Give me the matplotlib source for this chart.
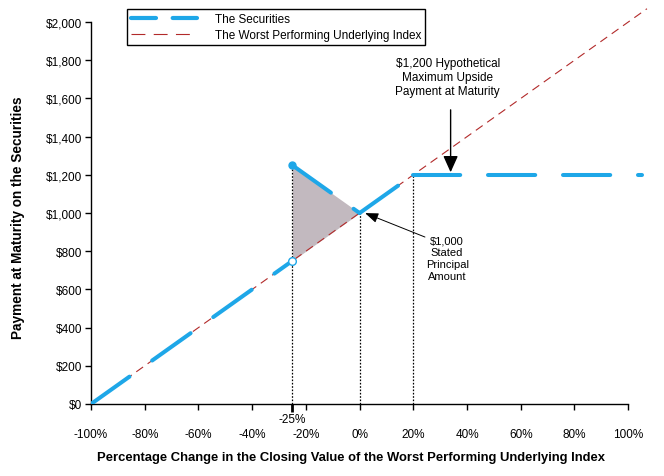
import matplotlib
matplotlib.use("Agg")
import matplotlib.pyplot as plt
from matplotlib.lines import Line2D

plt.rcParams['font.family'] = ['Liberation Sans', 'DejaVu Sans']
plt.rcParams['lines.scale_dashes'] = False

# ---- data ----
index_x = [-100, 107]
index_y = [0, 2070]
sec_loss_x = [-100, -25]
sec_loss_y = [0, 750]
sec_abs_x = [-25, 0]
sec_abs_y = [1250, 1000]
sec_up_x = [0, 20]
sec_up_y = [1000, 1200]
sec_cap_x = [20, 105]
sec_cap_y = [1200, 1200]
shade_x = [-25, 0]
shade_low = [750, 1000]
shade_high = [1250, 1000]
key_x = [-25, 0, 20]
key_y = [1250, 1000, 1200]
x_ticks = [-100, -80, -60, -40, -20, 0, 20, 40, 60, 80, 100]
x_labels = ['-100%', '-80%', '-60%', '-40%', '-20%', '0%', '20%', '40%', '60%', '80%', '100%']
y_ticks = [0, 200, 400, 600, 800, 1000, 1200, 1400, 1600, 1800, 2000]
y_labels = ['$0', '$200', '$400', '$600', '$800', '$1,000', '$1,200', '$1,400', '$1,600', '$1,800', '$2,000']

BLUE = '#1ea7e8'
RED = '#b22a2a'

fig = plt.figure(figsize=(6.64, 4.77), dpi=100)
ax = fig.add_axes([91/664, 1-405/477, (655-91)/664, 401/477])
ax.set_xlim(-100, 110)
ax.set_ylim(0, 2100)

# shaded area
ax.fill_between(shade_x, shade_low, shade_high, color='#c2b9bf', lw=0, zorder=1)

# dotted verticals
for xv, yv in zip(key_x, key_y):
    ax.plot([xv, xv], [0, yv], color='black', ls=(0, (1.2, 1.2)), lw=0.9, zorder=2)

# index line
ax.plot(index_x, index_y, color=RED, lw=0.8, dashes=(6, 4), zorder=3, clip_on=False)

# securities
sec_kw = dict(color=BLUE, lw=2.9, dashes=(34, 20), solid_capstyle='round',
              dash_capstyle='round', zorder=4)
ax.plot(sec_loss_x, sec_loss_y, **sec_kw)
ax.plot(sec_abs_x, sec_abs_y, **sec_kw)
ax.plot(sec_up_x, sec_up_y, **sec_kw)
ax.plot(sec_cap_x, sec_cap_y, **sec_kw)

ax.plot([sec_abs_x[0]], [sec_abs_y[0]], 'o', color=BLUE, ms=5, zorder=5)
ax.plot([sec_loss_x[-1]], [sec_loss_y[-1]], 'o', mfc='white', mec=BLUE, mew=1.0, ms=5.5, zorder=5)

# axes styling
for s in ['top', 'right']:
    ax.spines[s].set_visible(False)
ax.spines['left'].set_bounds(0, 2000)
ax.spines['bottom'].set_bounds(-100, 100)
ax.spines['left'].set_linewidth(1.0)
ax.spines['bottom'].set_linewidth(1.0)

ax.set_yticks(y_ticks)
ax.set_yticklabels(y_labels)
ax.tick_params(axis='y', direction='out', length=4.5, width=1, labelsize=8.5, pad=2, colors='black')
ax.set_xticks(x_ticks)
ax.set_xticklabels(x_labels)
ax.tick_params(axis='x', which='major', direction='out', length=4.5, width=1, labelsize=8.5, pad=12.5)
ax.set_xticks(key_x, minor=True)
ax.set_xticklabels(['-25%', '', ''], minor=True)
ax.tick_params(axis='x', which='minor', direction='out', length=5.5, width=2, labelsize=8.5, pad=1.0)

ax.set_ylabel('Payment at Maturity on the Securities', fontsize=9.8, fontweight='bold')
ax.yaxis.set_label_coords(25/664, 1-218/477, transform=fig.transFigure)
ax.set_xlabel('Percentage Change in the Closing Value of the Worst Performing Underlying Index',
              fontsize=9.4, fontweight='bold')
ax.xaxis.set_label_coords(351/664, 1-452/477, transform=fig.transFigure)

# annotations
ax.annotate('', xy=(33.9, 1199), xytext=(33.9, 1555),
            arrowprops=dict(arrowstyle='-|>,head_length=1.0,head_width=0.45', color='black', lw=1.0))
ax.text(32.8, 1712, '$1,200 Hypothetical\nMaximum Upside\nPayment at Maturity',
        ha='center', va='center', fontsize=8.5, linespacing=1.2)
ax.annotate('', xy=(1.1, 1005), xytext=(25.3, 869),
            arrowprops=dict(arrowstyle='-|>,head_length=0.8,head_width=0.3', color='black', lw=0.7))
ax.text(32.6, 764, '$1,000\nStated\nPrincipal\nAmount', ha='center', va='center',
        fontsize=8, linespacing=1.25)

# legend
h1 = Line2D([], [], color=BLUE, lw=3, dashes=(18, 12), dash_capstyle='round')
h2 = Line2D([], [], color=RED, lw=0.8, dashes=(10, 6))
leg = fig.legend([h1, h2], ['The Securities', 'The Worst Performing Underlying Index'],
                 loc='upper left', bbox_to_anchor=(127/664, 1-10/477), borderaxespad=0,
                 fontsize=8.5, fancybox=False, edgecolor='black', framealpha=1,
                 handlelength=5.6, handletextpad=1.5, borderpad=0.35, labelspacing=0.3)
leg.get_frame().set_linewidth(1.0)

fig.savefig('out.png', dpi=100)
